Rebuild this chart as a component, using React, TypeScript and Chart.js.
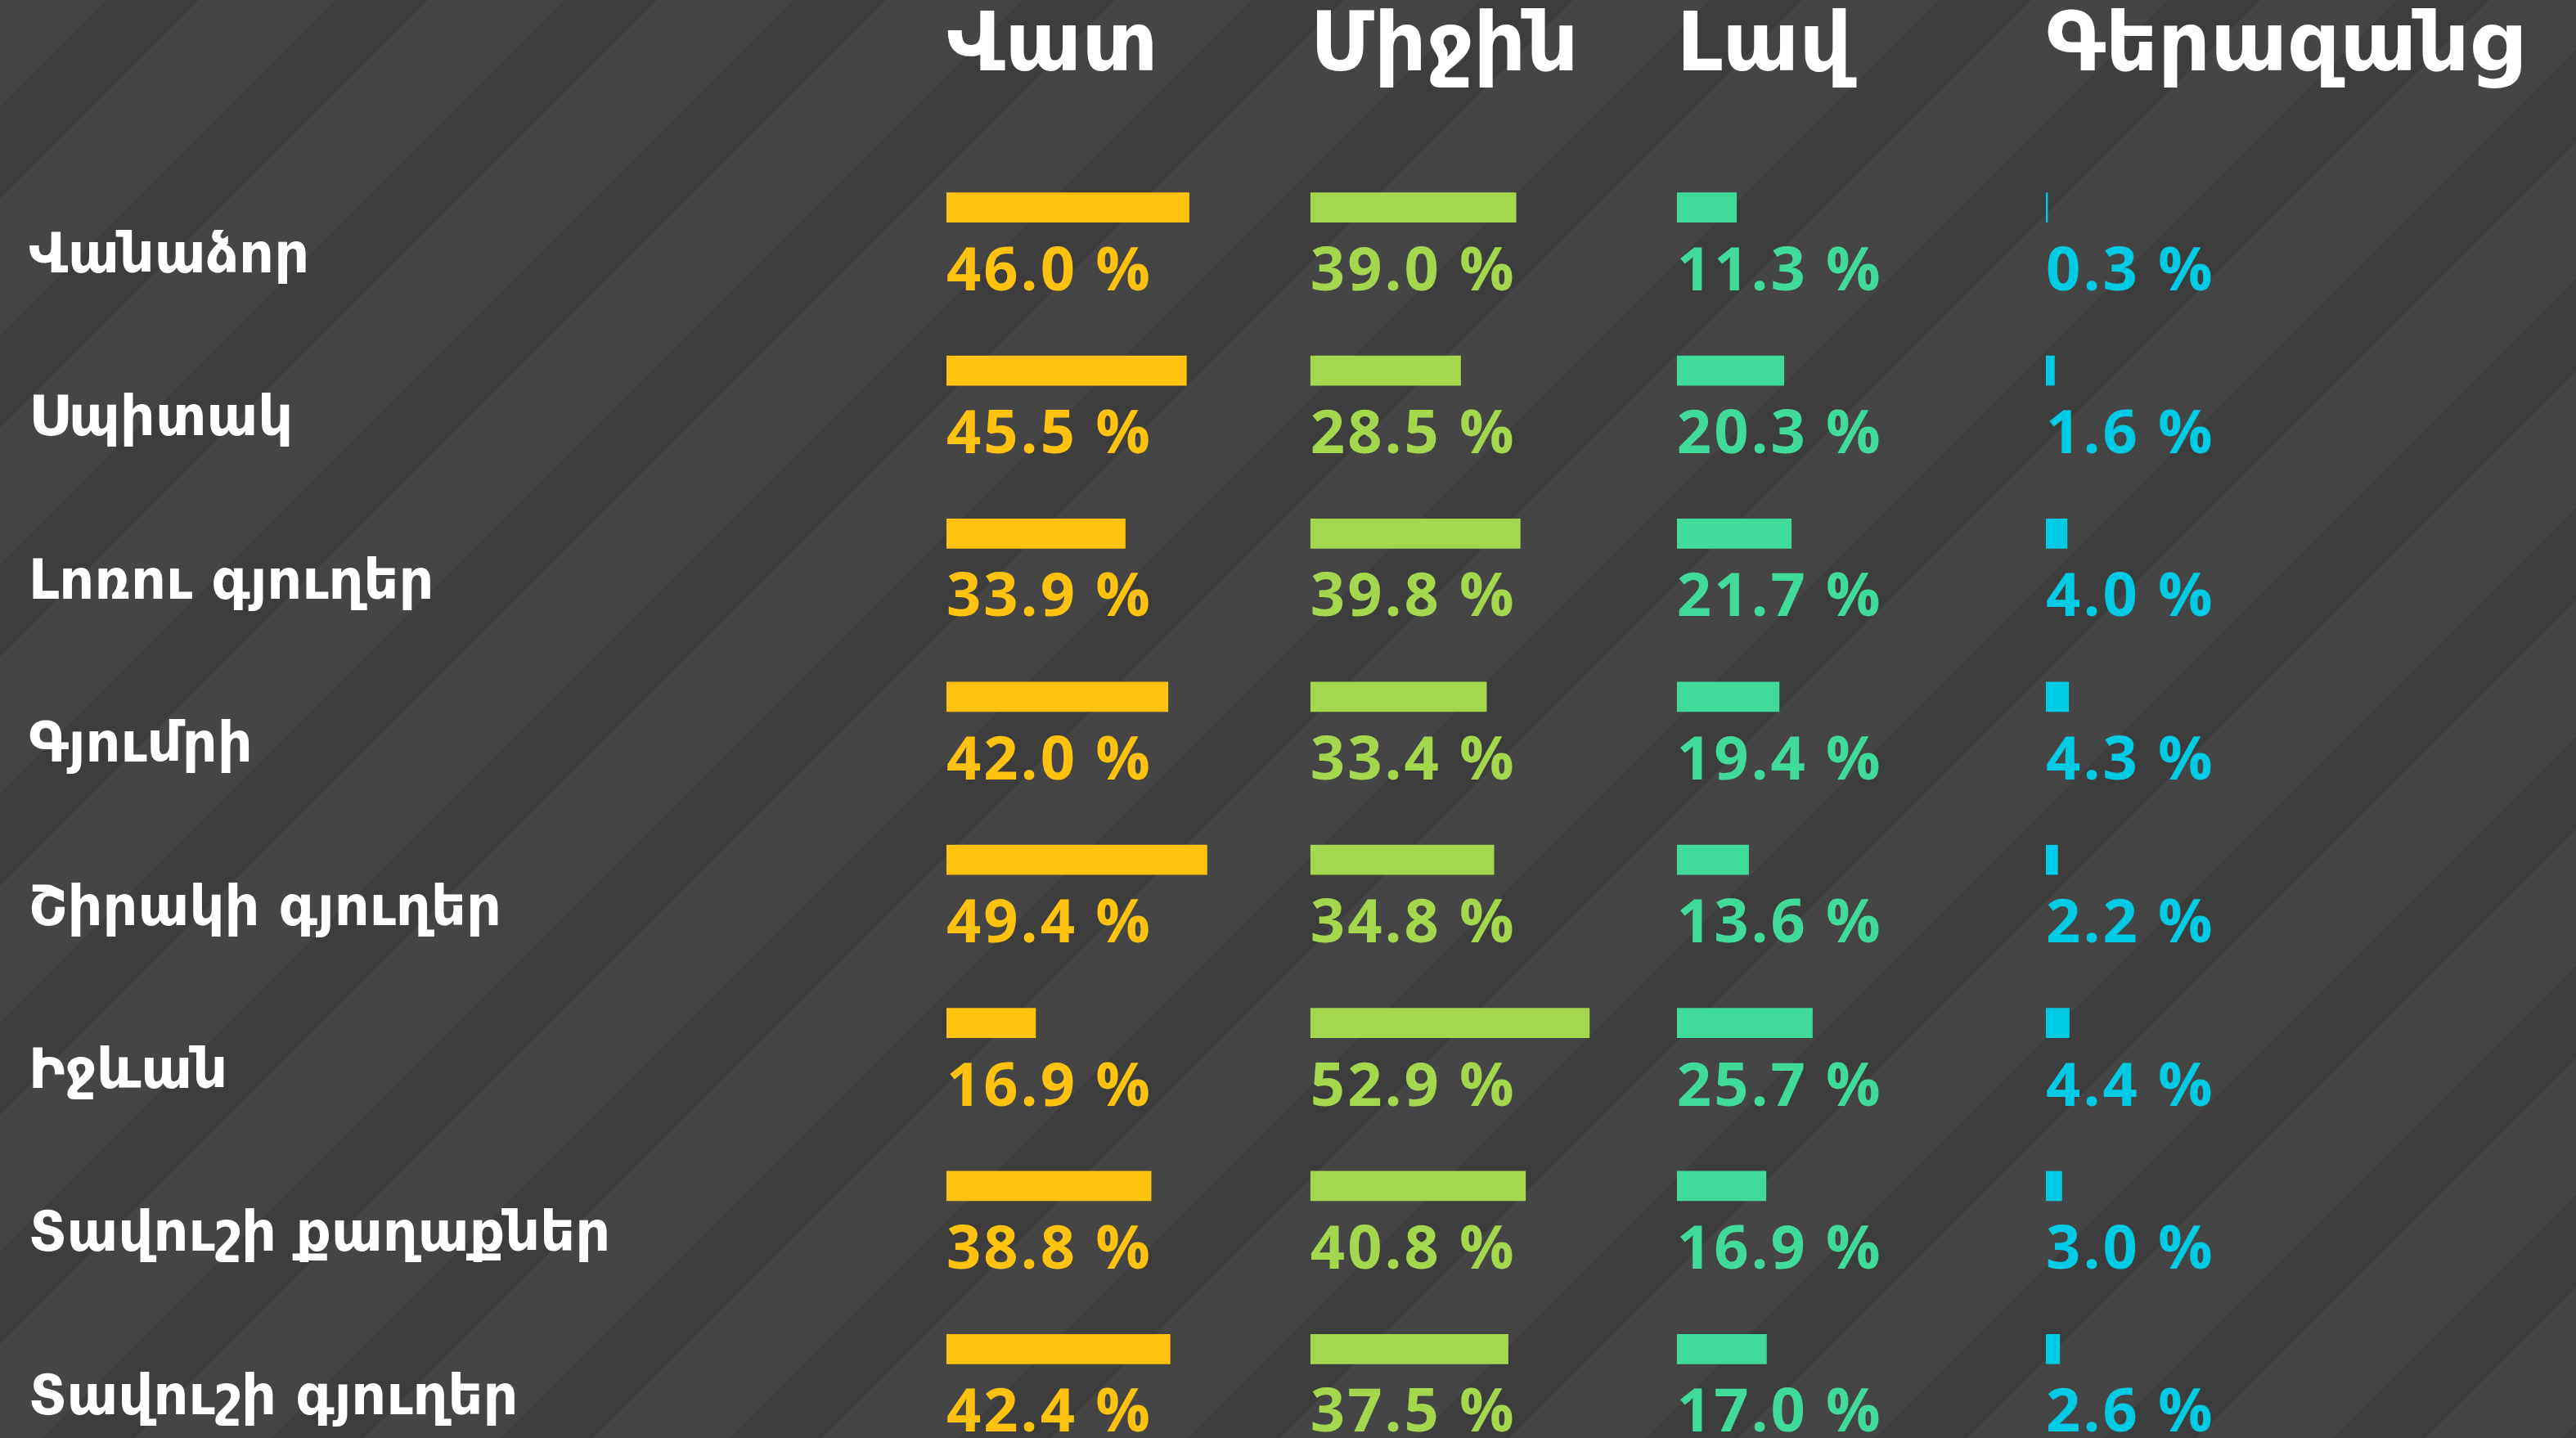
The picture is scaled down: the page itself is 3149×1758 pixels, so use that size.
import React, { useEffect, useRef } from "react";
import { Chart, registerables } from "chart.js";

Chart.register(...registerables);

// ---- data ----
const rowLabels = [
  "Վանաձոր",
  "Սպիտակ",
  "Լոռու գյուղեր",
  "Գյումրի",
  "Շիրակի գյուղեր",
  "Իջևան",
  "Տավուշի քաղաքներ",
  "Տավուշի գյուղեր",
];
const columnLabels = ["Վատ", "Միջին", "Լավ", "Գերազանց"];
const vatValues = [46.0, 45.5, 33.9, 42.0, 49.4, 16.9, 38.8, 42.4];
const mijinValues = [39.0, 28.5, 39.8, 33.4, 34.8, 52.9, 40.8, 37.5];
const lavValues = [11.3, 20.3, 21.7, 19.4, 13.6, 25.7, 16.9, 17.0];
const gerazancValues = [0.3, 1.6, 4.0, 4.3, 2.2, 4.4, 3.0, 2.6];
const seriesValues = [vatValues, mijinValues, lavValues, gerazancValues];
const seriesColors = ["#FFC20F", "#A4D64E", "#40DB9A", "#00CBE4"];
// percent range covered by each column's own axis (same px per % for all)
const columnSpan = [69.0, 69.5, 70.0, 100.5];

const W = 3149;
const H = 1758;

const stripePlugin = {
  id: "stripes",
  beforeDraw(chart: any) {
    const { ctx, width, height } = chart;
    ctx.save();
    ctx.fillStyle = "#3d3d3d";
    ctx.fillRect(0, 0, width, height);
    ctx.fillStyle = "#454545";
    const period = 280;
    const light = 167;
    const phase = 243;
    for (let c = phase - period * 20; c < width + height + period; c += period) {
      ctx.beginPath();
      ctx.moveTo(c, 0);
      ctx.lineTo(c + light, 0);
      ctx.lineTo(c + light - height, height);
      ctx.lineTo(c - height, height);
      ctx.closePath();
      ctx.fill();
    }
    ctx.restore();
  },
};

const valueLabelPlugin = {
  id: "valueLabels",
  afterDatasetsDraw(chart: any) {
    const { ctx } = chart;
    ctx.save();
    ctx.font = 'bold 74px "Open Sans", "DejaVu Sans", sans-serif';
    try {
      (ctx as any).letterSpacing = "3px";
    } catch (e) {}
    ctx.textAlign = "left";
    ctx.textBaseline = "alphabetic";
    chart.data.datasets.forEach((ds: any, di: number) => {
      const meta = chart.getDatasetMeta(di);
      meta.data.forEach((bar: any, i: number) => {
        const { base, y } = bar.getProps(["base", "y"], true);
        ctx.fillStyle = ds.backgroundColor;
        ctx.fillText(`${Number(ds.data[i]).toFixed(1)} %`, base, y + 101);
      });
    });
    ctx.restore();
  },
};

export default function App() {
  const ref = useRef<HTMLCanvasElement>(null);

  useEffect(() => {
    document.body.style.margin = "0";
    document.body.style.background = "#3d3d3d";
    document.body.style.overflow = "hidden";

    const scales: any = {
      y: {
        type: "category",
        position: "left",
        grid: { display: false, drawTicks: false },
        border: { display: false },
        ticks: {
          color: "#ffffff",
          font: { family: "DejaVu Sans", size: 67, weight: "bold", lineHeight: 0.2 },
          crossAlign: "far",
          labelOffset: 62,
          autoSkip: false,
          padding: 0,
        },
        afterFit: (s: any) => {
          s.width = 1122;
        },
      },
    };
    // top boxes are laid out in reverse order, so add the column axes last-to-first
    for (let i = columnLabels.length - 1; i >= 0; i--) {
      scales[`x${i}`] = {
        type: "linear",
        axis: "x",
        position: "top",
        stack: "cols",
        stackWeight: columnSpan[i],
        stacked: false,
        min: 0,
        max: columnSpan[i],
        grid: { display: false, drawTicks: false, tickLength: 0 },
        border: { display: false },
        ticks: { display: false },
        title: {
          display: true,
          text: columnLabels[i],
          color: "#ffffff",
          align: "start",
          font: { family: "DejaVu Sans", size: 100, weight: "bold", lineHeight: 1 },
          padding: { top: 10, bottom: 44 },
        },
      };
    }

    const chart = new Chart(ref.current as HTMLCanvasElement, {
      type: "bar",
      data: {
        labels: rowLabels,
        datasets: columnLabels.map((name, i) => ({
          label: name,
          data: seriesValues[i],
          xAxisID: `x${i}`,
          yAxisID: "y",
          backgroundColor: seriesColors[i],
          borderWidth: 0,
          grouped: false,
          barThickness: 36,
          maxBarThickness: 36,
        })),
      },
      options: {
        indexAxis: "y",
        animation: false,
        responsive: false,
        devicePixelRatio: 1,
        layout: { padding: { top: 0, left: 35, right: 0, bottom: 9 } },
        plugins: {
          legend: { display: false },
          tooltip: { enabled: false },
        },
        scales,
      } as any,
      plugins: [stripePlugin, valueLabelPlugin],
    });
    return () => chart.destroy();
  }, []);

  return (
    <canvas
      ref={ref}
      width={W}
      height={H}
      style={{ display: "block", width: W, height: H }}
    />
  );
}
